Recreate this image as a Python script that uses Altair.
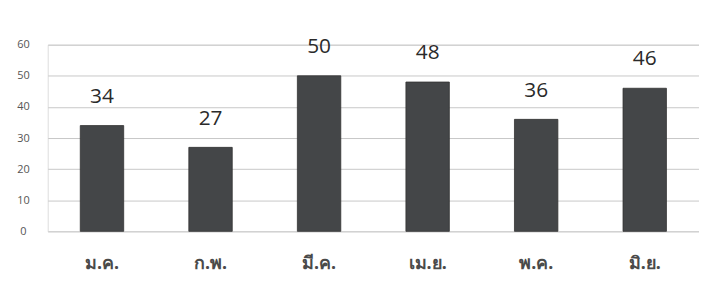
import altair as alt
import pandas as pd

months = ["ม.ค.", "ก.พ.", "มี.ค.", "เม.ย.", "พ.ค.", "มิ.ย."]
values = [34, 27, 50, 48, 36, 46]

df = pd.DataFrame({"month": months, "value": values})

base = alt.Chart(df).encode(
    x=alt.X("month:N", sort=months, title=None,
            scale=alt.Scale(paddingInner=0.6, paddingOuter=0.3),
            axis=alt.Axis(labelAngle=0, labelFontSize=18, labelFontWeight="bold",
                          labelColor="#4a4a4a", labelPadding=23, ticks=False,
                          domain=False, labelFont="Noto Sans")),
    y=alt.Y("value:Q", title=None,
            scale=alt.Scale(domain=[0, 60]),
            axis=alt.Axis(values=[0, 10, 20, 30, 40, 50, 60], labelFontSize=11,
                          labelColor="#555555", labelAlign="center", labelPadding=25,
                          ticks=False, domain=False, gridColor="#c8c8c8",
                          gridWidth=1, labelFont="Open Sans")),
)

bars = base.mark_bar(color="#444648", stroke="#333333", strokeWidth=0.8)
labels = base.mark_text(dy=-29, fontSize=21, color="#2a2a2a", font="Open Sans").encode(
    text="value:Q")

chart = (bars + labels).properties(
    width=656, height=188,
    autosize=alt.AutoSizeParams(type="none"),
    padding={"left": 40, "top": 36, "right": 0, "bottom": 44},
).configure_view(stroke=None).configure(background="white")

chart.save("out.html", embed_options={"renderer": "svg", "actions": False})
